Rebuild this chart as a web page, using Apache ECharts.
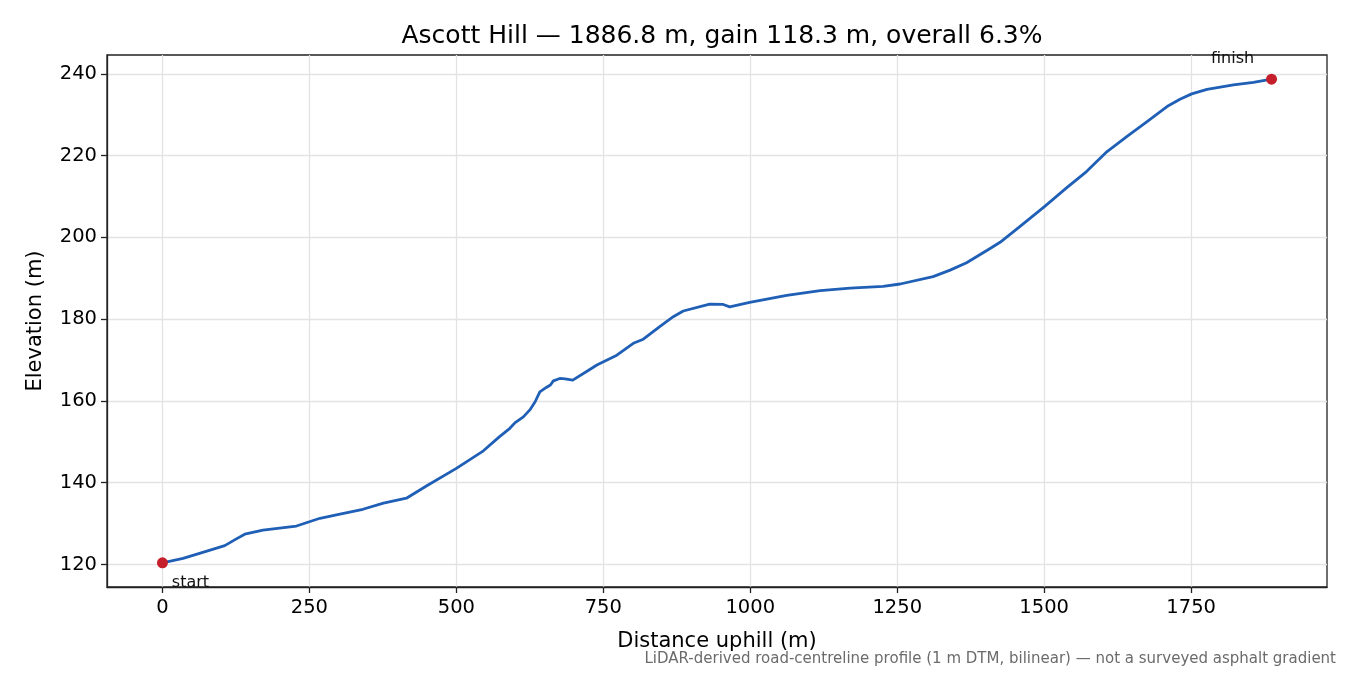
<!DOCTYPE html>
<html>
<head>
<meta charset="utf-8">
<script src="https://cdn.jsdelivr.net/npm/echarts@6/dist/echarts.min.js"></script>
<style>
  html, body { margin: 0; padding: 0; background: #fff; }
  #chart { width: 1350px; height: 675px; }
</style>
</head>
<body>
<div id="chart"></div>
<script>
// Distance uphill (m)
const distance = [0, 35, 70, 106, 125, 140, 171, 217, 228, 268, 302, 341, 376, 415, 449, 500, 546, 573, 591, 600, 614, 625, 634, 642, 653, 660, 665, 676, 685, 698, 727, 739, 773, 801, 818, 846, 869, 886, 931, 954, 965, 999, 1062, 1119, 1170, 1226, 1255, 1311, 1340, 1368, 1408, 1425, 1459, 1501, 1538, 1572, 1607, 1641, 1675, 1709, 1731, 1751, 1777, 1822, 1856, 1886.8];
// Elevation (m)
const elevation = [120.4, 121.5, 123.0, 124.6, 126.2, 127.4, 128.4, 129.2, 129.4, 131.3, 132.3, 133.5, 135.0, 136.2, 139.2, 143.5, 147.8, 151.2, 153.3, 154.7, 156.1, 157.8, 159.8, 162.2, 163.3, 163.9, 164.9, 165.5, 165.4, 165.1, 167.7, 168.8, 171.2, 174.1, 175.1, 178.2, 180.6, 182.0, 183.7, 183.6, 183.0, 184.1, 185.8, 187.0, 187.6, 188.0, 188.6, 190.4, 192.0, 193.8, 197.3, 198.8, 202.7, 207.6, 212.1, 216.1, 221.0, 224.7, 228.3, 232.0, 233.8, 235.1, 236.2, 237.3, 237.9, 238.7];
const xTicks = [0, 250, 500, 750, 1000, 1250, 1500, 1750];
const yTicks = [120, 140, 160, 180, 200, 220, 240];
const endpointLabels = ['start', 'finish'];
const titleText = 'Ascott Hill \u2014 1886.8 m, gain 118.3 m, overall 6.3%';
const footnoteText = 'LiDAR-derived road-centreline profile (1 m DTM, bilinear) \u2014 not a surveyed asphalt gradient';

const xSpan = distance[distance.length - 1] - distance[0];
const yLo = Math.min(...elevation), yHi = Math.max(...elevation);
const ySpan = yHi - yLo;
const FONT = 'DejaVu Sans';

const lineData = distance.map((d, i) => [d, elevation[i]]);
const n = distance.length - 1;
const endpoints = [
  { value: [distance[0], elevation[0]],
    label: { show: true, formatter: endpointLabels[0], position: 'bottom', offset: [28, 2] } },
  { value: [distance[n], elevation[n]],
    label: { show: true, formatter: endpointLabels[1], position: 'top', offset: [-39, -2] } }
];

const chart = echarts.init(document.getElementById('chart'), null, { renderer: 'canvas' });
chart.setOption({
  backgroundColor: '#ffffff',
  animation: false,
  title: [
    { text: titleText, left: 717, top: 19, textAlign: 'center',
      textStyle: { fontFamily: FONT, fontSize: 25, fontWeight: 'normal', color: '#000' } },
    { text: footnoteText, right: 14, top: 652, padding: 0,
      textStyle: { fontFamily: FONT, fontSize: 15, fontWeight: 'normal', color: '#6b6b6b' } }
  ],
  grid: { left: 107, right: 23, top: 55, bottom: 88, show: true, borderColor: '#222', borderWidth: 1.3, backgroundColor: 'transparent' },
  xAxis: {
    type: 'value',
    min: distance[0] - 0.05 * xSpan,
    max: distance[n] + 0.05 * xSpan,
    name: 'Distance uphill (m)',
    nameLocation: 'middle',
    nameGap: 44,
    nameTextStyle: { fontFamily: FONT, fontSize: 21, color: '#000' },
    axisLine: { show: true, onZero: false, lineStyle: { color: '#222', width: 1.3 } },
    axisTick: { show: true, length: 6, inside: false, customValues: xTicks, lineStyle: { color: '#222', width: 1.3 } },
    axisLabel: { customValues: xTicks, formatter: v => String(v), fontFamily: FONT, fontSize: 19.5, color: '#000', margin: 11 },
    splitLine: { show: true, lineStyle: { color: '#e3e3e3', width: 1.3 } }
  },
  yAxis: {
    type: 'value',
    min: yLo - 0.05 * ySpan,
    max: yHi + 0.05 * ySpan,
    name: 'Elevation (m)',
    nameLocation: 'middle',
    nameGap: 61,
    nameRotate: 90,
    nameTextStyle: { fontFamily: FONT, fontSize: 21, color: '#000' },
    axisLine: { show: true, onZero: false, lineStyle: { color: '#222', width: 1.3 } },
    axisTick: { show: true, length: 6, inside: false, customValues: yTicks, lineStyle: { color: '#222', width: 1.3 } },
    axisLabel: { customValues: yTicks, formatter: v => String(v), fontFamily: FONT, fontSize: 19.5, color: '#000', margin: 10 },
    splitLine: { show: true, lineStyle: { color: '#e3e3e3', width: 1.3 } }
  },
  series: [
    {
      type: 'line',
      data: lineData,
      showSymbol: false,
      smooth: false,
      lineStyle: { color: '#1f5fb6', width: 2.8, join: 'round', cap: 'round' },
      z: 3
    },
    {
      type: 'scatter',
      data: endpoints,
      symbolSize: 11,
      itemStyle: { color: '#c41f2b', opacity: 1 },
      label: { fontFamily: FONT, fontSize: 16, color: '#111' },
      z: 4
    }
  ]
});
</script>
</body>
</html>
